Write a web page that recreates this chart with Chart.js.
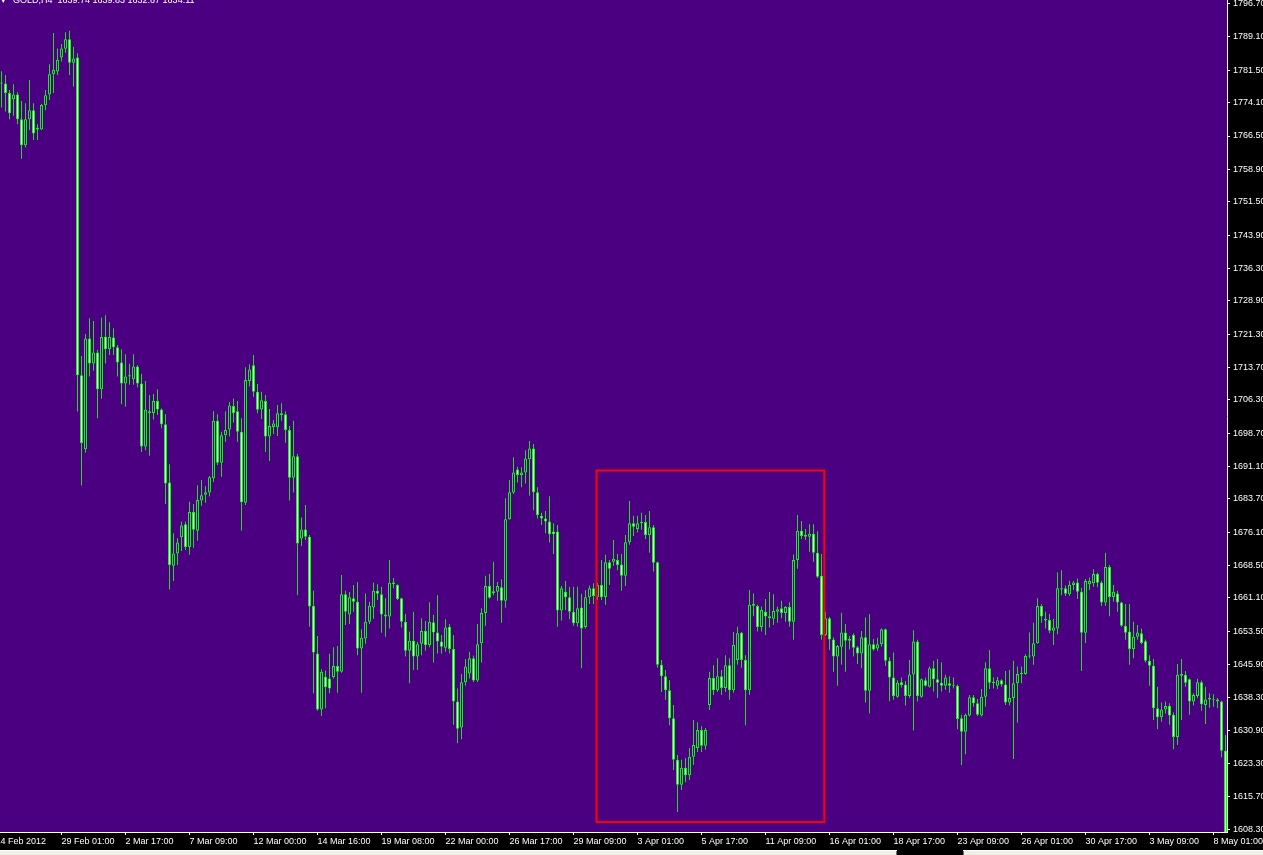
<!DOCTYPE html>
<html>
<head>
<meta charset="utf-8">
<title>GOLD,H4</title>
<script src="https://cdn.jsdelivr.net/npm/chart.js@4.4.0/dist/chart.umd.min.js"></script>
<style>
  html, body { margin: 0; padding: 0; background: #000; overflow: hidden; }
  #wrap { position: relative; width: 1263px; height: 855px; }
</style>
</head>
<body>
<div id="wrap"><canvas id="c" width="1263" height="855"></canvas></div>
<script>
// GOLD H4 candles, 24 Feb 2012 13:00 .. 8 May 2012 13:00 (one row = 10 bars)
var opens = [
  1778.7, 1778.5, 1776.3, 1774.9, 1776.0, 1770.3, 1764.4, 1770.3, 1772.4, 1768.0, // 0
  1768.0, 1773.5, 1776.0, 1780.6, 1781.2, 1784.4, 1786.4, 1788.6, 1783.2, 1784.4, // 10
  1711.9, 1695.0, 1720.3, 1714.6, 1717.1, 1708.7, 1720.7, 1717.8, 1720.5, 1718.3, // 20
  1714.8, 1710.0, 1711.6, 1711.0, 1713.9, 1710.0, 1695.6, 1703.7, 1703.3, 1706.0, // 30
  1704.1, 1700.7, 1687.4, 1668.4, 1671.2, 1674.9, 1677.9, 1672.7, 1680.7, 1676.4, // 40
  1683.3, 1684.6, 1685.1, 1688.4, 1701.5, 1691.9, 1698.2, 1699.5, 1704.9, 1703.7, // 50
  1699.0, 1682.8, 1710.6, 1714.2, 1708.1, 1704.1, 1706.0, 1697.9, 1700.1, 1700.0, // 60
  1703.2, 1703.0, 1699.4, 1688.5, 1693.4, 1674.6, 1676.7, 1675.0, 1659.2, 1648.4, // 70
  1635.6, 1643.1, 1642.7, 1643.0, 1645.5, 1644.2, 1661.9, 1657.3, 1661.0, 1660.2, // 80
  1649.5, 1651.8, 1655.6, 1658.9, 1662.7, 1661.9, 1657.3, 1656.8, 1664.6, 1664.0, // 90
  1661.0, 1655.6, 1649.0, 1651.3, 1647.7, 1650.6, 1653.5, 1650.3, 1655.5, 1653.2, // 100
  1651.1, 1649.7, 1654.5, 1649.4, 1637.4, 1631.5, 1641.8, 1643.8, 1647.3, 1642.2, // 110
  1650.7, 1657.6, 1663.8, 1662.2, 1662.5, 1663.5, 1660.4, 1679.0, 1685.1, 1690.4, // 120
  1689.1, 1689.7, 1692.7, 1695.2, 1685.2, 1679.8, 1679.2, 1678.5, 1676.2, 1676.2, // 130
  1658.2, 1662.5, 1661.2, 1657.9, 1655.3, 1658.9, 1654.4, 1661.2, 1663.3, 1661.3, // 140
  1664.0, 1661.3, 1669.2, 1669.3, 1669.7, 1668.7, 1666.1, 1673.8, 1678.1, 1676.8, // 150
  1678.1, 1678.4, 1675.4, 1677.2, 1669.2, 1645.8, 1643.2, 1640.0, 1633.6, 1624.1, // 160
  1618.4, 1622.3, 1620.6, 1624.8, 1626.8, 1630.9, 1627.3, 1636.6, 1642.8, 1640.0, // 170
  1643.2, 1640.5, 1645.7, 1640.0, 1646.9, 1653.1, 1646.9, 1640.0, 1659.3, 1659.2, // 180
  1654.4, 1657.9, 1656.9, 1656.3, 1657.9, 1658.7, 1657.6, 1659.0, 1655.6, 1669.7, // 190
  1676.4, 1675.0, 1675.0, 1675.7, 1671.4, 1666.1, 1652.6, 1656.4, 1651.6, 1647.7, // 200
  1649.9, 1653.2, 1651.3, 1652.6, 1649.8, 1648.4, 1652.1, 1639.9, 1650.5, 1649.5, // 210
  1650.5, 1653.9, 1646.7, 1642.9, 1638.5, 1641.8, 1641.3, 1638.7, 1643.6, 1651.1, // 220
  1638.5, 1642.3, 1640.8, 1645.0, 1642.5, 1641.7, 1641.0, 1641.6, 1641.0, 1641.0, // 230
  1633.6, 1630.5, 1634.2, 1638.4, 1637.0, 1634.2, 1638.5, 1645.0, 1641.6, 1641.0, // 240
  1642.3, 1641.3, 1637.2, 1638.2, 1641.6, 1643.7, 1643.7, 1647.7, 1647.7, 1650.7, // 250
  1659.2, 1656.3, 1656.0, 1653.6, 1654.1, 1663.0, 1663.3, 1661.9, 1664.0, 1664.6, // 260
  1662.5, 1653.1, 1664.2, 1664.4, 1666.5, 1664.6, 1660.0, 1668.1, 1661.3, 1662.1, // 270
  1660.0, 1654.7, 1653.4, 1649.4, 1652.2, 1653.0, 1651.2, 1646.7, 1645.6, 1635.9, // 280
  1633.8, 1635.6, 1636.4, 1634.4, 1629.3, 1643.3, 1643.5, 1642.5, 1637.4, 1638.7, // 290
  1641.8, 1636.6, 1637.9, 1637.8, 1637.9, 1637.4, 1626.2                          // 300
];
var highs = [
  1781.3, 1780.4, 1777.0, 1778.3, 1776.5, 1774.5, 1774.0, 1779.3, 1774.0, 1769.2,
  1773.8, 1777.0, 1782.9, 1790.0, 1786.5, 1787.5, 1790.2, 1790.5, 1786.9, 1785.4,
  1716.3, 1721.3, 1724.9, 1724.3, 1717.7, 1725.1, 1725.6, 1724.0, 1722.6, 1718.8,
  1717.8, 1716.7, 1714.5, 1716.7, 1714.2, 1712.2, 1710.6, 1707.4, 1707.6, 1708.7,
  1704.3, 1703.0, 1691.6, 1675.8, 1674.7, 1678.5, 1678.5, 1683.0, 1682.5, 1686.8,
  1688.0, 1686.6, 1688.9, 1703.7, 1703.0, 1699.0, 1703.7, 1705.8, 1706.6, 1706.0,
  1702.1, 1713.7, 1714.4, 1716.5, 1709.9, 1708.1, 1707.4, 1704.2, 1701.7, 1705.1,
  1705.5, 1703.7, 1700.3, 1701.5, 1693.9, 1679.4, 1682.3, 1675.4, 1662.7, 1652.4,
  1644.8, 1644.5, 1648.3, 1649.8, 1650.1, 1666.3, 1662.7, 1662.4, 1664.0, 1664.7,
  1653.9, 1662.1, 1660.2, 1664.6, 1664.2, 1663.6, 1661.0, 1669.7, 1665.6, 1664.2,
  1661.1, 1657.4, 1653.4, 1657.9, 1651.0, 1656.4, 1655.8, 1660.1, 1657.2, 1661.7,
  1652.6, 1656.2, 1655.1, 1652.6, 1640.4, 1643.7, 1647.1, 1648.8, 1647.9, 1655.1,
  1658.7, 1666.1, 1666.5, 1669.3, 1664.7, 1665.3, 1683.8, 1688.0, 1693.2, 1691.0,
  1690.9, 1694.8, 1696.9, 1696.2, 1686.3, 1680.5, 1680.9, 1684.3, 1678.1, 1677.7,
  1663.8, 1664.9, 1663.6, 1663.6, 1663.6, 1662.0, 1662.9, 1663.9, 1664.4, 1664.5,
  1669.7, 1670.9, 1669.7, 1674.3, 1671.1, 1671.1, 1675.4, 1683.2, 1679.8, 1679.8,
  1680.5, 1680.0, 1680.9, 1677.7, 1669.3, 1646.9, 1644.6, 1642.3, 1636.6, 1625.2,
  1624.1, 1624.5, 1626.8, 1633.2, 1632.7, 1631.8, 1631.4, 1644.2, 1645.7, 1647.3,
  1644.6, 1648.0, 1647.3, 1653.3, 1654.5, 1653.3, 1648.0, 1662.9, 1662.1, 1659.5,
  1659.1, 1660.8, 1662.4, 1661.9, 1659.1, 1660.4, 1659.2, 1660.1, 1671.0, 1680.0,
  1678.6, 1676.8, 1677.9, 1677.9, 1676.3, 1671.1, 1657.9, 1656.7, 1652.1, 1650.3,
  1657.7, 1655.1, 1652.4, 1653.0, 1650.1, 1653.5, 1656.6, 1657.4, 1651.7, 1652.0,
  1654.1, 1654.1, 1647.5, 1648.6, 1642.3, 1642.9, 1642.1, 1646.9, 1653.7, 1651.5,
  1642.7, 1642.9, 1645.4, 1646.7, 1647.1, 1646.4, 1643.5, 1643.2, 1642.9, 1641.3,
  1634.4, 1634.7, 1638.9, 1638.9, 1638.0, 1640.3, 1646.4, 1649.2, 1642.9, 1643.0,
  1642.5, 1644.4, 1644.6, 1646.7, 1645.4, 1645.4, 1648.2, 1653.2, 1655.4, 1661.0,
  1659.6, 1657.9, 1657.4, 1656.3, 1666.9, 1667.4, 1663.9, 1665.0, 1664.9, 1665.5,
  1663.4, 1665.4, 1665.7, 1667.6, 1666.8, 1665.0, 1671.4, 1668.6, 1664.0, 1662.7,
  1660.2, 1659.7, 1659.7, 1655.6, 1654.9, 1654.1, 1651.6, 1648.0, 1647.1, 1640.8,
  1637.2, 1637.4, 1637.0, 1634.9, 1646.0, 1647.1, 1644.4, 1642.7, 1639.3, 1642.6,
  1642.2, 1640.8, 1639.3, 1639.1, 1638.2, 1637.6, 1629.8
];
var lows = [
  1773.0, 1772.1, 1770.3, 1771.1, 1769.2, 1761.3, 1763.9, 1767.9, 1765.6, 1765.6,
  1767.9, 1772.4, 1774.7, 1776.3, 1780.4, 1783.5, 1785.5, 1780.4, 1777.8, 1703.6,
  1686.7, 1694.2, 1711.6, 1712.9, 1702.1, 1706.5, 1714.6, 1716.5, 1716.5, 1711.6,
  1705.3, 1704.7, 1709.7, 1709.7, 1709.1, 1694.4, 1694.8, 1693.5, 1701.8, 1702.8,
  1699.8, 1682.5, 1663.0, 1664.9, 1668.6, 1671.8, 1672.0, 1670.9, 1672.5, 1674.1,
  1682.1, 1682.8, 1684.2, 1687.5, 1691.4, 1688.7, 1696.7, 1697.9, 1701.1, 1696.7,
  1676.4, 1682.3, 1709.3, 1707.0, 1703.2, 1701.9, 1694.4, 1692.3, 1698.5, 1698.0,
  1701.5, 1696.5, 1683.3, 1685.1, 1661.7, 1672.9, 1674.3, 1654.5, 1639.3, 1635.3,
  1634.1, 1635.9, 1639.3, 1642.7, 1639.4, 1644.0, 1654.9, 1655.1, 1657.9, 1648.0,
  1639.4, 1650.6, 1655.1, 1656.3, 1660.6, 1653.1, 1652.2, 1654.1, 1663.3, 1660.6,
  1654.3, 1647.7, 1641.6, 1644.6, 1644.6, 1648.0, 1649.0, 1649.8, 1646.3, 1648.4,
  1648.4, 1648.8, 1648.4, 1632.1, 1627.9, 1628.8, 1641.0, 1642.7, 1641.9, 1641.9,
  1646.3, 1654.7, 1660.9, 1661.7, 1660.4, 1655.4, 1658.8, 1678.9, 1684.8, 1687.4,
  1686.3, 1687.2, 1684.4, 1681.1, 1679.2, 1677.7, 1675.8, 1673.7, 1671.1, 1654.5,
  1655.9, 1658.3, 1656.2, 1654.7, 1654.5, 1645.0, 1654.1, 1659.7, 1659.7, 1660.6,
  1660.6, 1659.5, 1664.0, 1668.4, 1667.4, 1662.7, 1663.8, 1673.2, 1675.2, 1676.0,
  1676.6, 1674.5, 1671.4, 1667.1, 1645.1, 1639.6, 1637.8, 1632.0, 1621.8, 1612.2,
  1617.2, 1619.0, 1619.5, 1622.9, 1625.9, 1625.9, 1626.4, 1635.5, 1638.9, 1639.6,
  1638.9, 1639.6, 1637.8, 1639.4, 1645.8, 1645.1, 1632.0, 1638.9, 1656.9, 1653.4,
  1653.4, 1652.6, 1654.3, 1654.9, 1655.4, 1656.4, 1655.6, 1654.5, 1651.5, 1667.7,
  1674.5, 1674.3, 1671.6, 1669.3, 1665.6, 1651.5, 1652.4, 1649.2, 1644.2, 1641.0,
  1645.8, 1644.2, 1649.3, 1647.7, 1646.0, 1645.0, 1637.2, 1634.7, 1649.0, 1649.0,
  1649.9, 1645.5, 1637.5, 1637.8, 1638.3, 1640.6, 1636.5, 1638.2, 1630.8, 1637.4,
  1638.3, 1640.8, 1640.6, 1639.7, 1638.2, 1639.7, 1640.1, 1639.4, 1640.4, 1631.1,
  1622.9, 1625.4, 1634.0, 1636.2, 1634.1, 1634.0, 1636.2, 1640.3, 1640.4, 1640.3,
  1640.8, 1636.6, 1636.5, 1624.3, 1632.6, 1641.6, 1643.5, 1647.3, 1645.8, 1650.6,
  1655.4, 1654.1, 1653.0, 1650.3, 1652.8, 1661.7, 1661.5, 1661.5, 1662.9, 1660.8,
  1644.4, 1650.8, 1662.9, 1663.6, 1663.5, 1659.2, 1659.2, 1656.9, 1660.2, 1657.9,
  1654.5, 1651.5, 1645.8, 1647.3, 1651.5, 1650.5, 1646.3, 1641.0, 1633.2, 1631.1,
  1632.8, 1634.7, 1632.1, 1626.5, 1627.5, 1633.2, 1640.8, 1634.4, 1636.5, 1638.2,
  1635.3, 1632.3, 1636.0, 1636.2, 1635.9, 1624.7, 1604.5
];
var closes = [
  1778.5, 1776.3, 1771.7, 1776.0, 1770.3, 1764.4, 1770.3, 1772.4, 1767.1, 1768.4,
  1773.6, 1775.8, 1780.6, 1781.6, 1783.9, 1786.5, 1788.6, 1783.2, 1784.2, 1711.9,
  1696.4, 1720.3, 1714.6, 1717.1, 1708.7, 1720.6, 1717.8, 1720.6, 1718.3, 1714.8,
  1710.0, 1711.6, 1711.9, 1713.9, 1710.0, 1695.6, 1704.0, 1703.3, 1706.0, 1704.1,
  1700.7, 1687.2, 1668.6, 1671.2, 1673.7, 1677.6, 1672.7, 1680.7, 1676.6, 1683.4,
  1684.5, 1685.2, 1688.6, 1701.5, 1691.9, 1698.2, 1699.4, 1705.0, 1703.3, 1699.0,
  1682.9, 1710.8, 1713.2, 1708.1, 1704.0, 1706.2, 1697.9, 1700.3, 1700.9, 1703.2,
  1702.8, 1699.4, 1688.5, 1693.4, 1673.5, 1676.7, 1675.0, 1659.1, 1648.6, 1635.6,
  1644.2, 1640.7, 1640.4, 1645.5, 1644.2, 1661.9, 1657.9, 1661.2, 1660.2, 1649.5,
  1652.0, 1655.6, 1659.3, 1662.7, 1662.0, 1657.3, 1656.8, 1664.5, 1664.2, 1660.8,
  1655.6, 1649.0, 1651.3, 1647.7, 1650.5, 1653.5, 1650.3, 1655.6, 1653.2, 1651.1,
  1649.9, 1654.3, 1649.4, 1637.4, 1631.2, 1641.8, 1645.4, 1647.3, 1642.2, 1650.5,
  1657.6, 1663.8, 1661.1, 1662.6, 1663.8, 1660.4, 1679.0, 1685.2, 1689.7, 1689.1,
  1689.7, 1692.9, 1695.2, 1685.2, 1680.0, 1679.2, 1678.5, 1675.6, 1675.6, 1658.2,
  1663.3, 1661.2, 1657.9, 1655.3, 1658.7, 1654.1, 1661.2, 1663.3, 1661.5, 1664.0,
  1661.2, 1669.2, 1667.7, 1670.0, 1668.6, 1666.1, 1673.8, 1678.1, 1677.3, 1678.1,
  1678.4, 1675.4, 1677.2, 1669.1, 1645.8, 1643.2, 1640.0, 1633.6, 1624.1, 1618.4,
  1622.3, 1620.6, 1624.8, 1627.5, 1630.9, 1627.3, 1630.9, 1642.8, 1640.0, 1643.2,
  1640.5, 1645.7, 1640.0, 1650.3, 1653.0, 1646.9, 1640.0, 1659.5, 1659.7, 1654.4,
  1658.3, 1656.8, 1656.4, 1658.1, 1658.5, 1657.6, 1659.0, 1655.6, 1669.7, 1676.4,
  1675.2, 1675.4, 1675.7, 1671.4, 1665.9, 1652.6, 1656.4, 1651.6, 1647.7, 1650.1,
  1653.2, 1651.3, 1651.7, 1649.7, 1648.4, 1652.1, 1639.9, 1650.5, 1649.3, 1650.5,
  1653.9, 1646.7, 1642.9, 1638.7, 1641.7, 1641.2, 1638.7, 1643.6, 1651.1, 1638.7,
  1642.5, 1641.0, 1645.0, 1642.5, 1641.7, 1641.0, 1642.9, 1641.0, 1641.0, 1633.4,
  1630.5, 1634.4, 1638.4, 1637.0, 1634.4, 1638.5, 1645.0, 1641.7, 1641.9, 1642.3,
  1641.3, 1637.2, 1638.2, 1641.6, 1643.7, 1644.0, 1647.8, 1647.8, 1650.7, 1659.2,
  1656.8, 1655.9, 1653.6, 1654.3, 1663.3, 1663.3, 1662.0, 1664.0, 1664.6, 1662.5,
  1653.1, 1664.9, 1664.9, 1666.5, 1664.5, 1660.0, 1668.1, 1661.3, 1662.5, 1660.0,
  1654.7, 1653.1, 1649.4, 1652.2, 1653.2, 1650.8, 1646.7, 1645.6, 1635.9, 1633.8,
  1635.6, 1636.4, 1634.2, 1629.3, 1643.5, 1643.7, 1641.7, 1637.4, 1638.9, 1641.8,
  1636.8, 1637.9, 1638.2, 1638.0, 1637.4, 1626.2, 1605.0
];

// price scale labels as the terminal prints them
var yTickLabels = [1796.70, 1789.10, 1781.50, 1774.10, 1766.50, 1758.90, 1751.50, 1743.90,
  1736.30, 1728.90, 1721.30, 1713.70, 1706.30, 1698.70, 1691.10, 1683.70, 1676.10,
  1668.50, 1661.10, 1653.50, 1645.90, 1638.30, 1630.90, 1623.30, 1615.70, 1608.30];

// time scale: bar index under each label (first one sits left of bar 0)
var xTickIdx = [-1.5, 15, 31, 47, 63, 79, 95, 111, 127, 143, 159, 175, 191, 207, 223, 239, 255, 271, 287, 303];
var xTickLabels = ['24 Feb 2012', '29 Feb 01:00', '2 Mar 17:00', '7 Mar 09:00', '12 Mar 00:00',
  '14 Mar 16:00', '19 Mar 08:00', '22 Mar 00:00', '26 Mar 17:00', '29 Mar 09:00', '3 Apr 01:00',
  '5 Apr 17:00', '11 Apr 09:00', '16 Apr 01:00', '18 Apr 17:00', '23 Apr 09:00', '26 Apr 01:00',
  '30 Apr 17:00', '3 May 09:00', '8 May 01:00'];

// red box drawn on the chart (bar index / price)
var markBox = { from: 148.75, to: 205.7, top: 1690.15, bottom: 1609.9 };

var headerText = 'GOLD,H4  1639.74 1639.83 1632.67 1634.11';

var FONT = "'Liberation Sans', Arial, sans-serif";
var BG = '#4b0082';

var wickData = [], bodyData = [], bodyFill = [];
for (var i = 0; i < opens.length; i++) {
    wickData.push({ x: i, y: [lows[i], highs[i]] });
    bodyData.push({ x: i, y: [opens[i], closes[i]] });
    bodyFill.push(closes[i] < opens[i] ? '#ffffff' : BG);
}

var mt4Plugin = {
    id: 'mt4',
    beforeDraw: function (chart) {
        var ctx = chart.ctx, a = chart.chartArea;
        ctx.save();
        ctx.fillStyle = '#000';
        ctx.fillRect(0, 0, chart.width, chart.height);
        ctx.fillStyle = BG;
        ctx.fillRect(a.left, a.top, a.right - a.left, a.bottom - a.top);
        ctx.restore();
    },
    afterDatasetsDraw: function (chart) {
        var ctx = chart.ctx, xs = chart.scales.x, ys = chart.scales.y;
        ctx.save();
        //box
        ctx.strokeStyle = '#ff0000';
        ctx.lineWidth = 2;
        var x0 = xs.getPixelForValue(markBox.from), x1 = xs.getPixelForValue(markBox.to);
        var y0 = ys.getPixelForValue(markBox.top), y1 = ys.getPixelForValue(markBox.bottom);
        ctx.strokeRect(x0, y0, x1 - x0, y1 - y0);
        //header, cut by the top edge
        ctx.fillStyle = '#ffffff';
        ctx.font = '9px ' + FONT;
        ctx.textBaseline = 'alphabetic';
        ctx.fillText('\u25BE', 1, 3);
        ctx.fillText(headerText, 13, 3);
        ctx.restore();
    },
    afterDraw: function (chart) {
        var ctx = chart.ctx;
        ctx.save();
        ctx.fillStyle = '#ffffff';
        ctx.fillRect(0, 850, chart.width, 1);
        ctx.fillStyle = '#f1efe2';
        ctx.fillRect(0, 851, 896, 4);
        ctx.fillRect(964, 851, chart.width - 964, 4);
        ctx.fillStyle = '#000';
        ctx.fillRect(897, 850, 66, 5);
        ctx.fillStyle = '#716f64';
        ctx.fillRect(896, 851, 1, 4);
        ctx.fillRect(963, 851, 1, 4);
        ctx.restore();
    }
};

new Chart(document.getElementById('c'), {
    type: 'bar',
    data: {
        datasets: [{
            label: 'wick',
            data: wickData,
            backgroundColor: '#2fd22f',
            borderWidth: 0,
            barThickness: 1,
            grouped: false,
            inflateAmount: 0,
            clip: 0,
            order: 2
        }, {
            label: 'body',
            data: bodyData,
            backgroundColor: bodyFill,
            borderColor: '#00ff00',
            borderWidth: 1,
            borderSkipped: false,
            barThickness: 3,
            minBarLength: 1,
            grouped: false,
            inflateAmount: 0,
            clip: 0,
            order: 1
        }]
    },
    options: {
        responsive: false,
        animation: false,
        devicePixelRatio: 1,
        layout: { padding: 0 },
        plugins: {
            legend: { display: false },
            tooltip: { enabled: false }
        },
        scales: {
            x: {
                type: 'linear',
                min: -0.375,
                max: 306.375,
                offset: false,
                grid: { display: true, offset: false, drawOnChartArea: false, drawTicks: true, tickLength: 3, color: '#ffffff' },
                border: { display: true, color: '#ffffff', width: 1 },
                ticks: {
                    autoSkip: false, maxRotation: 0, minRotation: 0, align: 'start', padding: 1,
                    color: '#ffffff', font: { family: FONT, size: 9 },
                    callback: function (v, idx) { return xTickLabels[idx]; }
                },
                afterBuildTicks: function (s) {
                    s.ticks = xTickIdx.map(function (v) { return { value: v }; });
                },
                afterFit: function (s) { s.height = 23; s.paddingLeft = 0; s.paddingRight = 0; }
            },
            y: {
                position: 'right',
                min: 1607.635,
                max: 1797.545,
                grid: { display: true, drawOnChartArea: false, drawTicks: true, tickLength: 3, color: '#ffffff' },
                border: { display: true, color: '#ffffff', width: 1 },
                ticks: {
                    padding: 3, color: '#ffffff', font: { family: FONT, size: 9 },
                    callback: function (v) { return Number(v).toFixed(2); }
                },
                afterBuildTicks: function (s) {
                    s.ticks = yTickLabels.map(function (v) { return { value: v }; });
                },
                afterFit: function (s) { s.width = 36; s.paddingTop = 0; s.paddingBottom = 0; }
            }
        }
    },
    plugins: [mt4Plugin]
});
</script>
</body>
</html>
